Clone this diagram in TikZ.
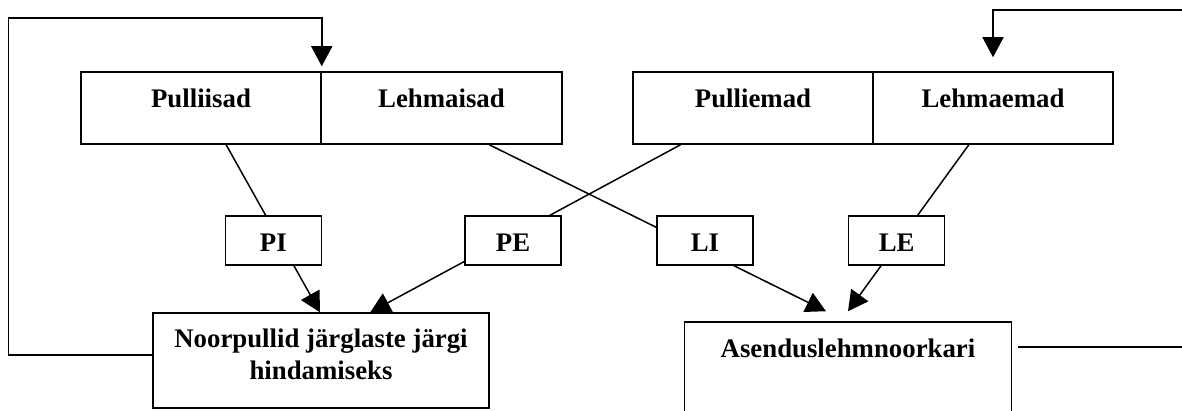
\documentclass[tikz,border=0pt]{standalone}
\usepackage{fontspec}
\setmainfont{Liberation Serif}
\usetikzlibrary{arrows.meta,calc}
\begin{document}
\begin{tikzpicture}[x=1pt,y=-1pt,line width=1.5pt,
  every node/.style={font=\fontsize{26.8}{32}\selectfont\bfseries},
  half/.style={draw,fill=white,minimum width=240pt,minimum height=72pt,inner sep=0pt,text height=12pt,text depth=12pt},
  tag/.style={draw,fill=white,minimum width=96pt,minimum height=49pt,inner sep=0pt,text height=23pt,text depth=0pt},
  bigbox/.style={draw,inner sep=0pt},
  txt/.style={anchor=base,inner sep=0pt},
  arr/.style={-{Triangle[length=20pt,width=21pt]}}]
\useasboundingbox (0,0) rectangle (1182,411);
\clip (0,0) rectangle (1182,411);
% top boxes
\node[half] (pi) at (201,108) {Pulliisad};
\node[half,minimum width=241pt] (li) at (441.5,108) {Lehmaisad};
\node[half] (pe) at (753,108) {Pulliemad};
\node[half] (le) at (993,108) {Lehmaemad};
% bottom boxes
\node[bigbox,minimum width=336pt,minimum height=95pt] (np) at (321,360.5) {};
\node[txt] (np1) at (321,347) {Noorpullid järglaste järgi};
\node[txt] (np2) at (321,379) {hindamiseks};
\node[bigbox,minimum width=327pt,minimum height=118pt] (as) at (848,381) {};
\node[txt] (as1) at (848,357) {Asenduslehmnoorkari};
% connectors
\draw[arr] ($(pi.south west)!0.604!(pi.south east)$) -- ($(np.north west)!0.497!(np.north east)$);
\draw[arr] ($(pe.south west)!0.2!(pe.south east)$) -- ($(np.north west)!0.646!(np.north east)$);
\draw[arr] ($(li.south west)!0.697!(li.south east)$) -- ($(as.north west)!0.433!(as.north east)+(0,-10)$);
\draw[arr] ($(le.south west)!0.4!(le.south east)$) -- ($(as.north west)!0.5!(as.north east)+(0,-10)$);
% label boxes
\node[tag] (PI) at (273.3,240.5) {PI};
\node[tag] (PE) at (513,240.5) {PE};
\node[tag] (LI) at (705,240.5) {LI};
\node[tag] (LE) at (896.7,240.5) {LE};
% feedback loops
\draw[arr] ([yshift=5.5pt]np.west) -- ++(-144,0) |- ([yshift=53pt]pi.north east) -- ([yshift=5pt]pi.north east);
\draw[arr] ([xshift=6pt,yshift=34pt]as.east) -- ++(170,0) |- ([yshift=61pt]le.north) -- ([yshift=14pt]le.north);
\end{tikzpicture}
\end{document}
